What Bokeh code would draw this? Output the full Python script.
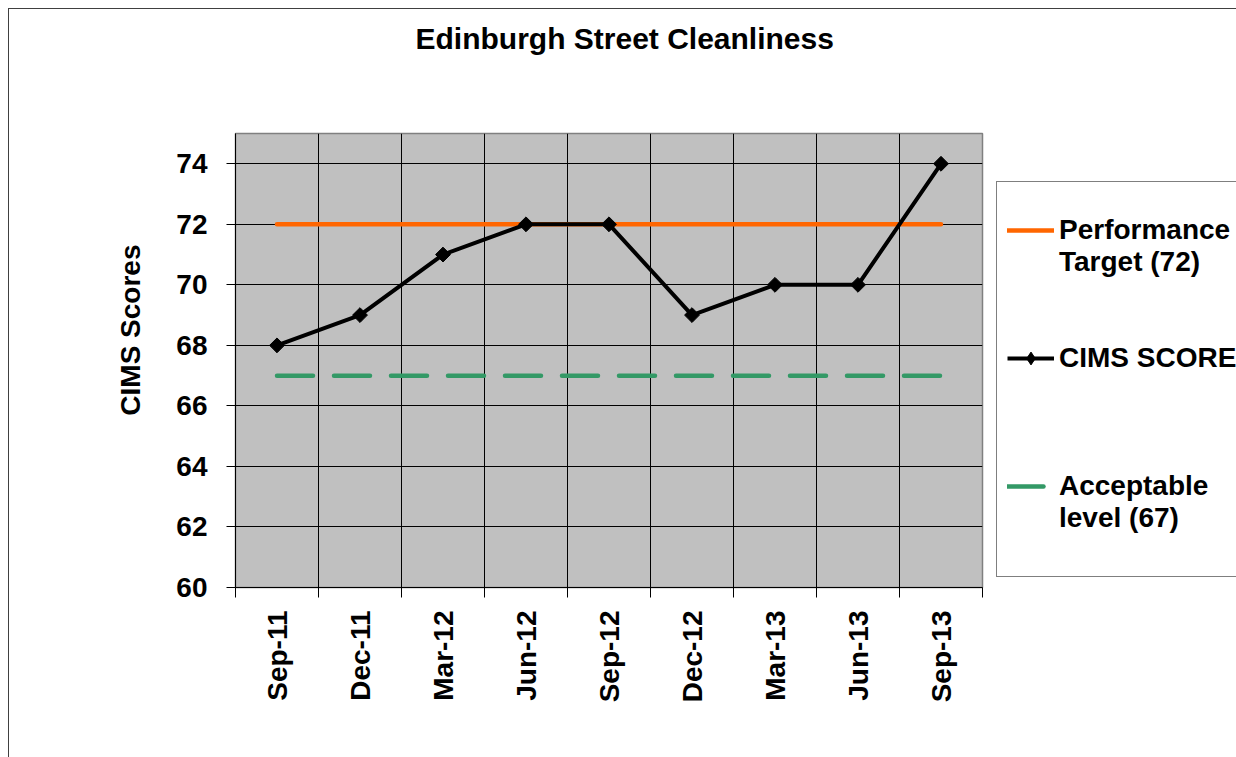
import numpy as np
from bokeh.plotting import figure
from bokeh.layouts import row
from bokeh.models import Range1d, FixedTicker, Legend, LegendItem, Title
from bokeh.embed import file_html
from bokeh.resources import INLINE

# ---- data ----
categories = ["Sep-11", "Dec-11", "Mar-12", "Jun-12", "Sep-12",
              "Dec-12", "Mar-13", "Jun-13", "Sep-13"]
cims_score = [68, 69, 71, 72, 72, 69, 70, 70, 74]
performance_target = [72, 72, 72, 72, 72, 72, 72, 72, 72]
acceptable_level = [67, 67, 67, 67, 67, 67, 67, 67, 67]
y_ticks = [60, 62, 64, 66, 68, 70, 72, 74]

FONT = "Liberation Sans"
ORANGE, GREEN = "#FF6600", "#339966"

x = [i + 0.5 for i in range(len(categories))]
boundaries = list(range(len(categories) + 1))

# ---- main chart ----
p = figure(width=979, height=748, output_backend="svg", toolbar_location=None,
           x_range=Range1d(0, len(categories)), y_range=Range1d(60, 75),
           min_border_left=226, min_border_right=6,
           min_border_top=124, min_border_bottom=170)
p.background_fill_color = "#C0C0C0"
p.border_fill_color = "white"
p.outline_line_color = "#808080"
p.outline_line_width = 1.5

# spacer then chart title (stacked outward from the plot area)
p.add_layout(Title(text=" ", text_font_size="10px", standoff=61), "above")
p.add_layout(Title(text="Edinburgh Street Cleanliness", align="left", offset=180,
                   text_font=FONT, text_font_size="30px", text_font_style="bold",
                   text_color="black", standoff=10), "above")

# y axis title
p.add_layout(Title(text="CIMS Scores", align="right", offset=111, standoff=55,
                   text_font=FONT, text_font_size="28px", text_font_style="bold",
                   text_color="black"), "left")

# x axis
p.xaxis.ticker = FixedTicker(ticks=x, minor_ticks=boundaries)
p.xaxis.major_label_overrides = {xi: c for xi, c in zip(x, categories)}
p.xaxis.major_tick_line_color = None
p.xaxis.major_tick_out = 10
p.xaxis.major_tick_in = 0
p.xaxis.minor_tick_line_color = "black"
p.xaxis.minor_tick_out = 10
p.xaxis.minor_tick_in = 0
p.xaxis.major_label_orientation = np.pi / 2
p.xaxis.major_label_standoff = 13
p.xaxis.major_label_text_font = FONT
p.xaxis.major_label_text_font_size = "28px"
p.xaxis.major_label_text_font_style = "bold"
p.xaxis.major_label_text_color = "black"
p.xaxis.axis_line_color = "black"

# y axis
p.yaxis.ticker = FixedTicker(ticks=y_ticks)
p.yaxis.major_tick_out = 9
p.yaxis.major_tick_in = 0
p.yaxis.major_tick_line_color = "black"
p.yaxis.minor_tick_line_color = None
p.yaxis.major_label_standoff = 19
p.yaxis.major_label_text_font = FONT
p.yaxis.major_label_text_font_size = "28px"
p.yaxis.major_label_text_font_style = "bold"
p.yaxis.major_label_text_color = "black"
p.yaxis.axis_line_color = "black"

# grids
p.xgrid.ticker = FixedTicker(ticks=boundaries)
p.xgrid.grid_line_color = "black"
p.xgrid.grid_line_width = 1
p.ygrid.ticker = FixedTicker(ticks=y_ticks)
p.ygrid.grid_line_color = "black"
p.ygrid.grid_line_width = 1

# series
p.line(x, performance_target, line_color=ORANGE, line_width=4.5, line_cap="round")
p.line(x, cims_score, line_color="black", line_width=4, line_join="round")
p.scatter(x, cims_score, marker="square", angle=np.pi / 4, size=10.5, color="black")
p.line(x, acceptable_level, line_color=GREEN, line_width=4.5,
       line_dash="36 21", line_cap="round")

# ---- legend panel ----
lg = figure(width=248, height=748, output_backend="svg", toolbar_location=None,
            x_range=Range1d(0, 1), y_range=Range1d(0, 1),
            min_border_left=0, min_border_right=0,
            min_border_top=0, min_border_bottom=0)
lg.axis.visible = False
lg.grid.visible = False
lg.outline_line_color = None
lg.background_fill_color = "white"
lg.border_fill_color = "white"

# legend key renderers: styled like the series, their points lie outside the view
off_x, off_y = [-3, -2], [-3, -3]
k_target = lg.line(off_x, off_y, line_color=ORANGE, line_width=4.5, line_cap="round")
k_cims_l = lg.line(off_x, off_y, line_color="black", line_width=4)
k_cims_p = lg.scatter(off_x, off_y, marker="diamond", size=10.5, color="black")
k_accept = lg.line(off_x, off_y, line_color=GREEN, line_width=4.5,
                   line_dash="36 21", line_cap="round")
k_blank = lg.line(off_x, off_y, line_alpha=0)


def blank():
    return LegendItem(label=" ", renderers=[k_blank])


items = ([LegendItem(label="Performance", renderers=[k_target]),
          LegendItem(label="Target (72)", renderers=[k_blank])]
         + [blank() for _ in range(2)]
         + [LegendItem(label="CIMS SCORE", renderers=[k_cims_l, k_cims_p])]
         + [blank() for _ in range(3)]
         + [LegendItem(label="Acceptable", renderers=[k_accept]),
            LegendItem(label="level (67)", renderers=[k_blank])]
         + [blank()])

legend = Legend(items=items, location=(8, 10), margin=0, padding=10,
                spacing=0, glyph_width=47, glyph_height=32, label_height=32,
                label_standoff=5,
                label_text_font=FONT, label_text_font_size="28px",
                label_text_font_style="bold", label_text_color="black",
                title=" ", title_text_font_size="14px", title_standoff=6,
                border_line_color="black", border_line_width=1,
                background_fill_color="white", background_fill_alpha=1)
lg.add_layout(legend, "center")

layout = row(p, lg)
layout.margin = (8, 0, 0, 8)
layout.styles = {"border-left": "1px solid #404040", "border-top": "1px solid #404040"}

open("out.html", "w").write(file_html(layout, INLINE))
